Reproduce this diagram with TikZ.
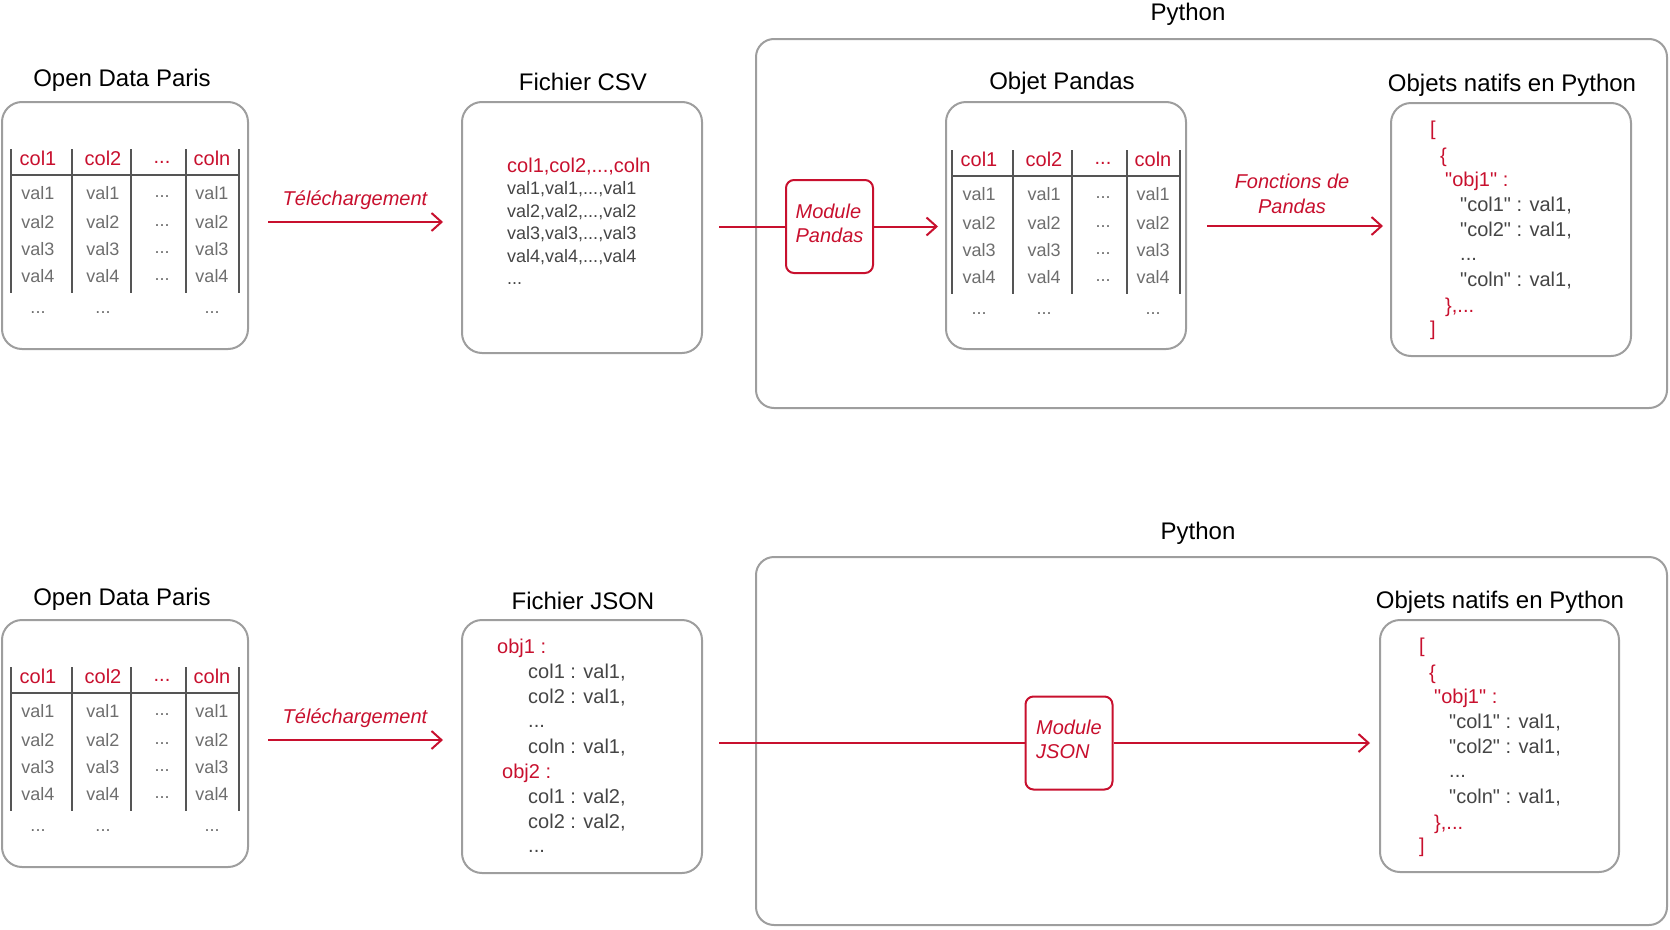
\documentclass[tikz,border=0pt]{standalone}
\usepackage{fontspec}
\setmainfont{Liberation Sans}
\newfontfamily\droit{Liberation Sans}
\usetikzlibrary{arrows.meta}
\definecolor{rouge}{HTML}{C8102E}
\definecolor{gris}{HTML}{9E9E9E}
\definecolor{trait}{HTML}{555555}
\definecolor{grisval}{HTML}{6E6E6E}
\definecolor{texte}{HTML}{454545}

\tikzset{
  boite/.style={draw=gris,line width=2pt,rounded corners=20pt,inner sep=0pt},
  python/.style={draw=gris,line width=2pt,rounded corners=18pt,inner sep=0pt},
  module/.style={draw=rouge,line width=2pt,rounded corners=8pt,inner sep=0pt,
    minimum width=87pt,minimum height=93pt},
  modtxt/.style={align=left,text=rouge,font=\itshape\fontsize{20}{24}\selectfont},
  titre/.style={font=\fontsize{24}{28}\selectfont},
  etiq/.style={text=rouge,align=center,font=\itshape\fontsize{20}{25}\selectfont},
  fleche/.style={draw=rouge,line width=2pt,-{Straight Barb[length=10pt,width=18pt]}},
  tabline/.style={draw=trait,line width=1.5pt},
  entete/.style={text=rouge,font=\fontsize{20}{24}\selectfont},
  valeur/.style={text=grisval,font=\fontsize{18}{22}\selectfont},
  csvl/.style={anchor=west,inner sep=0pt,text=texte,font=\fontsize{18}{22}\selectfont},
  code/.style={anchor=west,inner sep=0pt,text=texte,font=\droit\fontsize{20}{24}\selectfont},
}

% table des colonnes : prefixe, x, y
\newcommand{\tablo}[3]{%
  \begin{scope}[shift={(#2,#3)}]
    \foreach \vx in {0,61,120,175,228} \draw[tabline] (\vx,0) -- (\vx,144);
    \draw[tabline] (0,26) -- (228,26);
    \path (27,9) node[entete] (#1h1) {col1}
          (92,9) node[entete] (#1h2) {col2}
          (151,13) node[entete] (#1h3) {...}
          (201,9) node[entete] (#1hn) {coln};
    \foreach \nr/\ny in {1/44,2/73,3/100,4/127} {
      \path (27,\ny) node[valeur] (#1a\nr) {val\nr}
            (92,\ny) node[valeur] (#1b\nr) {val\nr}
            (151,\ny+4) node[valeur] (#1c\nr) {...}
            (201,\ny) node[valeur] (#1n\nr) {val\nr};
    }
    \path (27,164) node[valeur] (#1ae) {...}
          (92,164) node[valeur] (#1be) {...}
          (201,164) node[valeur] (#1ne) {...};
  \end{scope}}

% objets python : prefixe, x, y
\newcommand{\natifs}[3]{%
  \begin{scope}[shift={(#2,#3)}]
    \path (39,27) node[code,text=rouge] (#1cr1) {[}
          (49,54) node[code,text=rouge] (#1ac1) {\{}
          (54,78) node[code,text=rouge] (#1obj) {"obj1" :}
          (69,103) node[code] (#1l1) {"col1" : val1,}
          (69,128) node[code] (#1l2) {"col2" : val1,}
          (69,156) node[code] (#1l3) {...}
          (69,178) node[code] (#1ln) {"coln" : val1,}
          (54,204) node[code,text=rouge] (#1ac2) {\},...}
          (39,227) node[code,text=rouge] (#1cr2) {]};
  \end{scope}}

\begin{document}
\begin{tikzpicture}[x=1pt,y=-1pt]
  \useasboundingbox (0,0) rectangle (1670,929);

  % ligne du haut : CSV
  \path
  (1211.5,223.5) node[python,minimum width=911pt,minimum height=369pt] (py1) {}
  (125,225.5) node[boite,minimum width=246pt,minimum height=247pt] (odp1) {}
  (582,227.5) node[boite,minimum width=240pt,minimum height=251pt] (csv) {}
  (1066,225.5) node[boite,minimum width=240pt,minimum height=247pt] (pd) {}
  (1511,229.5) node[boite,minimum width=240pt,minimum height=253pt] (nat1) {}
  ;
  \path
  (122,80) node[titre] (odp1t) {Open Data Paris}
  (583,82) node[titre] (csvt) {Fichier CSV}
  (1188,14) node[titre] (py1t) {Python}
  (1062,83) node[titre] (pdt) {Objet Pandas}
  (1512,85) node[titre] (nat1t) {Objets natifs en Python}
  ;

  \tablo{ta}{11}{149}
  \tablo{tb}{952}{150}
  \natifs{na}{1391}{103}

  \path
  (507,167) node[csvl,text=rouge,font=\fontsize{20}{24}\selectfont] (csvh) {col1,col2,...,coln}
  (507,189.5) node[csvl] (csv1) {val1,val1,...,val1}
  (507,212) node[csvl] (csv2) {val2,val2,...,val2}
  (507,234.5) node[csvl] (csv3) {val3,val3,...,val3}
  (507,257) node[csvl] (csv4) {val4,val4,...,val4}
  (507,284) node[csvl] (csv5) {...}
  ;

  \node[module] (modpd) at (829.5,226.5) {};
  \node[modtxt] (modpdt) at (829.5,223.5) {Module\\Pandas};

  \coordinate (t1a) at (268,222);
  \coordinate (t1b) at (443,222);
  \coordinate (csvout) at (719,226.5);
  \coordinate (pdin) at (938,226.5);
  \coordinate (pdout) at (1207,226);
  \coordinate (nat1in) at (1383,226);

  \draw[fleche] (t1a) -- (t1b);
  \draw[draw=rouge,line width=2pt] (csvout) -- (modpd.west);
  \draw[fleche] (modpd.east) -- (pdin);
  \draw[fleche] (pdout) -- (nat1in);

  \node[etiq] (tel1) at (355,200) {Téléchargement};
  \node[etiq] (fct) at (1292,194) {Fonctions de\\Pandas};

  % ligne du bas : JSON
  \path
  (1211.5,741) node[python,minimum width=911pt,minimum height=368pt] (py2) {}
  (125,743.5) node[boite,minimum width=246pt,minimum height=247pt] (odp2) {}
  (582,746.5) node[boite,minimum width=240pt,minimum height=253pt] (json) {}
  (1499.5,746) node[boite,minimum width=239pt,minimum height=252pt] (nat2) {}
  ;
  \path
  (122,599) node[titre] (odp2t) {Open Data Paris}
  (583,601) node[titre] (jsont) {Fichier JSON}
  (1198,533) node[titre] (py2t) {Python}
  (1500,602) node[titre] (nat2t) {Objets natifs en Python}
  ;

  \tablo{tc}{11}{667}
  \natifs{nb}{1380}{620}

  \path
  (497,648) node[code,text=rouge] (js1) {obj1 :}
  (528,673) node[code] (js2) {col1 : val1,}
  (528,698) node[code] (js3) {col2 : val1,}
  (528,726) node[code] (js4) {...}
  (528,748) node[code] (js5) {coln : val1,}
  (502,773) node[code,text=rouge] (js6) {obj2 :}
  (528,798) node[code] (js7) {col1 : val2,}
  (528,823) node[code] (js8) {col2 : val2,}
  (528,851) node[code] (js9) {...}
  ;

  \node[module] (modjs) at (1069,743) {};
  \node[modtxt] (modjst) at (1069,739.5) {Module\\JSON};

  \coordinate (t2a) at (268,740);
  \coordinate (t2b) at (443,740);
  \coordinate (jsonout) at (719,743);
  \coordinate (nat2in) at (1370,743);

  \draw[fleche] (t2a) -- (t2b);
  \draw[draw=rouge,line width=2pt] (jsonout) -- (modjs.west);
  \draw[fleche] (modjs.east) -- (nat2in);

  \node[etiq] (tel2) at (355,718) {Téléchargement};
\end{tikzpicture}
\end{document}
